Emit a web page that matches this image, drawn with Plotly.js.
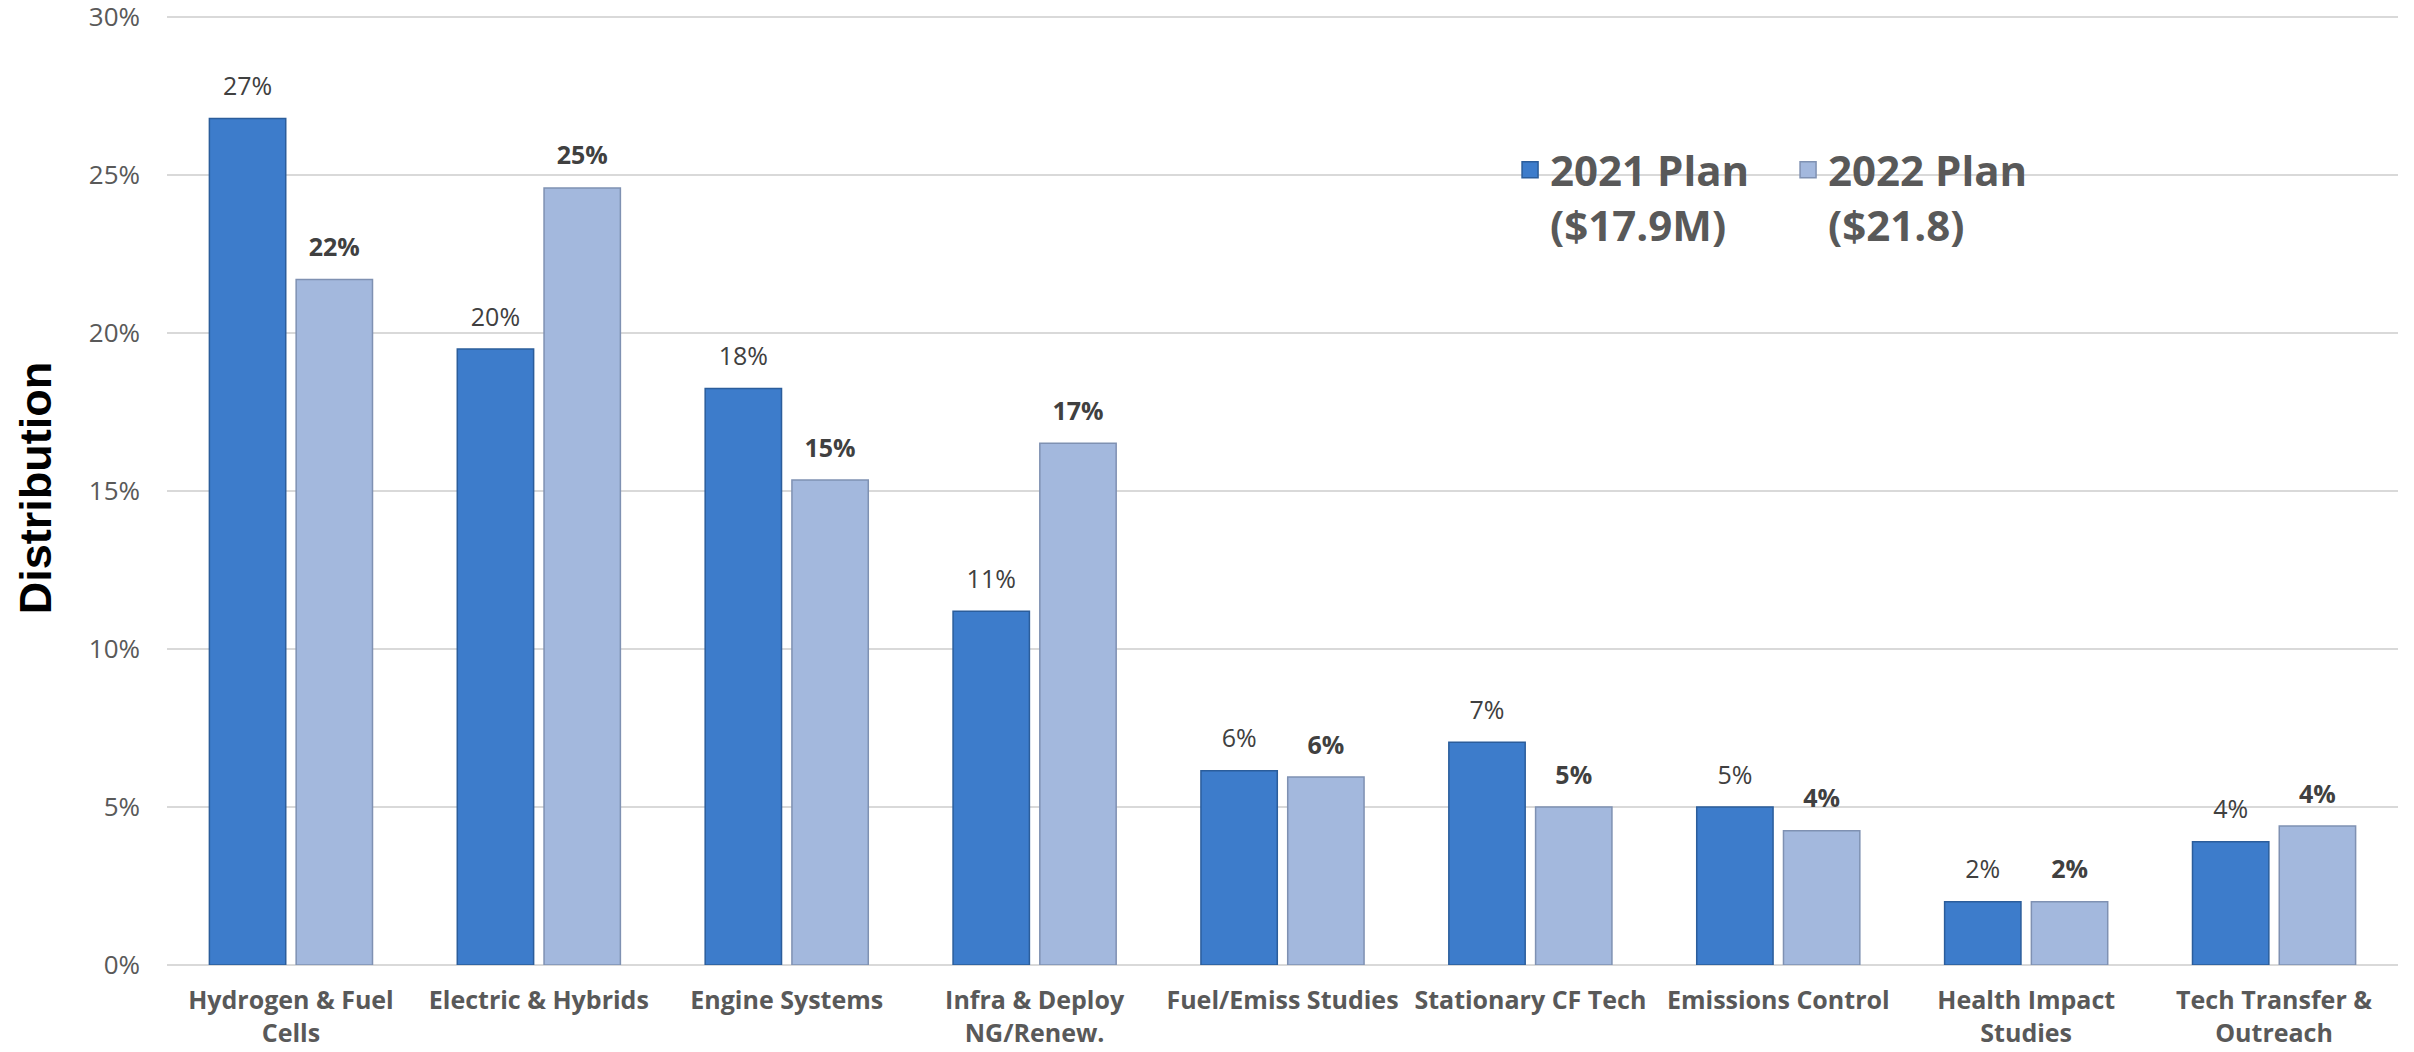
<!DOCTYPE html>
<html>
<head>
<meta charset="utf-8">
<script src="https://cdn.plot.ly/plotly-3.0.1.min.js"></script>
<style>
  html, body { margin: 0; padding: 0; background: #ffffff; }
  #chart { width: 2414px; height: 1052px; }
</style>
</head>
<body>
<div id="chart"></div>
<script>
// Categories (x-axis tick labels)
const categories = [
  "Hydrogen & Fuel<br>Cells",
  "Electric & Hybrids",
  "Engine Systems",
  "Infra & Deploy<br>NG/Renew.",
  "Fuel/Emiss Studies",
  "Stationary CF Tech",
  "Emissions Control",
  "Health Impact<br>Studies",
  "Tech Transfer &<br>Outreach"
];

// Series values (percent of total)
const plan2021 = [26.8, 19.5, 18.25, 11.2, 6.15, 7.05, 5.0, 2.0, 3.9];
const plan2022 = [21.7, 24.6, 15.35, 16.52, 5.95, 5.0, 4.25, 2.0, 4.4];

// Series names (legend)
const name2021 = "2021 Plan<br>($17.9M)";
const name2022 = "2022 Plan<br>($21.8)";

// Y-axis ticks
const yTickVals = [0, 5, 10, 15, 20, 25, 30];
const yTickText = ["0%", "5%", "10%", "15%", "20%", "25%", "30%"];

const color2021 = "#3D7CCB";
const line2021 = "#2B5D9B";
const color2022 = "#A3B8DD";
const line2022 = "#7F91B2";

const labelFont = { family: "Open Sans, sans-serif", size: 25, color: "#404040" };

const traces = [
  {
    type: "bar",
    name: name2021,
    x: categories,
    y: plan2021,
    offsetgroup: "g2021",
    marker: { color: color2021, line: { color: line2021, width: 1.5 } },
    showlegend: false,
    hoverinfo: "skip"
  },
  {
    type: "bar",
    name: name2022,
    x: categories,
    y: plan2022,
    offsetgroup: "g2022",
    marker: { color: color2022, line: { color: line2022, width: 1.5 } },
    showlegend: false,
    hoverinfo: "skip"
  },
  // value labels, grouped like the bars (scattermode: group)
  {
    type: "scatter",
    mode: "markers+text",
    x: categories,
    y: plan2021,
    offsetgroup: "g2021",
    marker: { size: 26, opacity: 0, color: color2021 },
    texttemplate: "%{y:.0f}%",
    textposition: "top center",
    textfont: labelFont,
    cliponaxis: false,
    showlegend: false,
    hoverinfo: "skip"
  },
  {
    type: "scatter",
    mode: "markers+text",
    x: categories,
    y: plan2022,
    offsetgroup: "g2022",
    marker: { size: 26, opacity: 0, color: color2022 },
    texttemplate: "<b>%{y:.0f}%</b>",
    textposition: "top center",
    textfont: labelFont,
    cliponaxis: false,
    showlegend: false,
    hoverinfo: "skip"
  },
  // legend entries
  {
    type: "scatter", mode: "markers", name: name2021,
    x: [null], y: [null],
    offsetgroup: "g2021",
    marker: { symbol: "square", size: 26, color: color2021, line: { color: line2021, width: 1.5 } },
    showlegend: true, hoverinfo: "skip"
  },
  {
    type: "scatter", mode: "markers", name: name2022,
    x: [null], y: [null],
    offsetgroup: "g2022",
    marker: { symbol: "square", size: 26, color: color2022, line: { color: line2022, width: 1.5 } },
    showlegend: true, hoverinfo: "skip"
  }
];

const layout = {
  width: 2414,
  height: 1052,
  paper_bgcolor: "#ffffff",
  plot_bgcolor: "#ffffff",
  margin: { l: 167, r: 16, t: 11, b: 87 },
  barmode: "group",
  bargap: 0.3,
  bargroupgap: 0.12,
  scattermode: "group",
  scattergap: 0.3,
  showlegend: true,
  legend: {
    orientation: "h",
    x: 0.602,
    xanchor: "left",
    y: 0.869,
    yanchor: "top",
    valign: "top",
    bgcolor: "rgba(0,0,0,0)",
    font: { family: "Open Sans, sans-serif", size: 42, color: "#595959", weight: "bold" },
    itemwidth: 30,
    entrywidth: 233,
    traceorder: "normal"
  },
  xaxis: {
    type: "category",
    automargin: false,
    showgrid: false,
    showline: false,
    zeroline: false,
    ticks: "",
    ticklabelstandoff: 18,
    tickfont: { family: "Open Sans, sans-serif", size: 25, color: "#595959", weight: "bold" },
    fixedrange: true
  },
  yaxis: {
    automargin: false,
    range: [0, 30.2],
    tickmode: "array",
    tickvals: yTickVals,
    ticktext: yTickText,
    ticklabeloverflow: "allow",
    showgrid: true,
    gridcolor: "#D9D9D9",
    gridwidth: 2,
    zeroline: true,
    zerolinecolor: "#D9D9D9",
    zerolinewidth: 2,
    showline: false,
    ticks: "",
    ticklabelstandoff: 26,
    tickfont: { family: "Open Sans, sans-serif", size: 26, color: "#595959" },
    title: {
      text: "<b>Distribution</b>",
      font: { family: "Liberation Sans Narrow, Liberation Sans, sans-serif", size: 45, color: "#000000" },
      standoff: 23
    },
    fixedrange: true
  }
};

Plotly.newPlot("chart", traces, layout, { displayModeBar: false, staticPlot: true });
</script>
</body>
</html>
